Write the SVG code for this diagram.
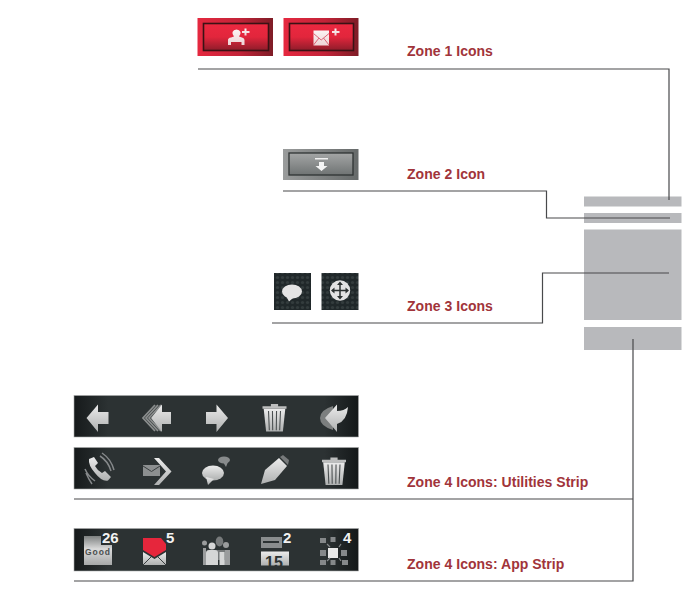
<svg xmlns="http://www.w3.org/2000/svg" width="697" height="597" viewBox="0 0 697 597">
<style>
.lbl{font-family:"Liberation Sans",Arial,sans-serif;font-size:14px;font-weight:bold;fill:#a1343a;letter-spacing:.03px}
.con{fill:none;stroke:#48494b;stroke-width:1.2}
.zone{fill:#b8b9bc}
.inner{stroke:#3a1214;stroke-width:1.6;fill:url(#redIn)}
.ic{fill:url(#ico)}
.icw{fill:url(#whitePink)}
.num{font-family:"Liberation Sans",Arial,sans-serif;font-weight:bold;font-size:15px;fill:#f2f2f2}
.strip{fill:url(#strip);stroke:#a8aaaa;stroke-width:.6}
.bk{fill:#85888a}
</style>
<defs>
<linearGradient id="redOut" x1="0" x2="1" y1="0" y2="0"><stop offset="0" stop-color="#e5283f"/><stop offset=".55" stop-color="#c32338"/><stop offset="1" stop-color="#7e1c26"/></linearGradient>
<linearGradient id="redIn" x1="0" x2="0" y1="0" y2="1"><stop offset="0" stop-color="#ec2840"/><stop offset=".5" stop-color="#e2263c"/><stop offset="1" stop-color="#8e1c2a"/></linearGradient>
<linearGradient id="whitePink" x1="0" x2="0" y1="0" y2="1"><stop offset="0" stop-color="#fbf3f3"/><stop offset="1" stop-color="#eed4d6"/></linearGradient>
<linearGradient id="grayOut" x1="0" x2="1" y1="0" y2="0"><stop offset="0" stop-color="#9a9c9c"/><stop offset="1" stop-color="#666a6a"/></linearGradient>
<linearGradient id="grayIn" x1="0" x2="0" y1="0" y2="1"><stop offset="0" stop-color="#a4a6a6"/><stop offset="1" stop-color="#6f7373"/></linearGradient>
<linearGradient id="strip" x1="0" x2="1" y1="0" y2="0"><stop offset="0" stop-color="#161a1b"/><stop offset=".12" stop-color="#2c3233"/><stop offset=".88" stop-color="#2c3233"/><stop offset="1" stop-color="#141819"/></linearGradient>
<linearGradient id="ico" x1="0" x2="0" y1="0" y2="1"><stop offset="0" stop-color="#ececec"/><stop offset="1" stop-color="#aeb0b0"/></linearGradient>
<linearGradient id="goodG" x1="0" x2="0" y1="0" y2="1"><stop offset="0" stop-color="#7e8181"/><stop offset=".45" stop-color="#dadada"/><stop offset="1" stop-color="#a6a8a8"/></linearGradient>
<pattern id="dots" width="5" height="5" patternUnits="userSpaceOnUse"><rect width="5" height="5" fill="#20282a"/><circle cx="2.500" cy="2.500" r="1.600" fill="#333c3d"/></pattern>
<g id="trash"><path class="ic" d="M-9-9H9L7 10H-7Z"/><path d="M-10-11H10V-9H-10ZM-3-13H3V-11H-3Z" fill="#bdbebe"/><path d="M-5-7-4.300 9M-1.700-7-1.500 9M1.700-7 1.500 9M5-7 4.300 9" stroke="#4a4f50" stroke-width=".9"/></g>
</defs>

<g id="zone-blocks">
<rect class="zone" x="584" y="196.500" width="97.500" height="10"/>
<rect class="zone" x="584" y="213" width="97.500" height="10"/>
<rect class="zone" x="584" y="229.500" width="97.500" height="90.500"/>
<rect class="zone" x="584" y="327" width="97.500" height="23"/>
</g>

<g id="connectors">
<path class="con" d="M198 69H669V200"/>
<path class="con" d="M283 191H546.500V218H670"/>
<path class="con" d="M272 323H542.500V273H669"/>
<path class="con" d="M74 499H633"/>
<path class="con" d="M74 581H633V339"/>
</g>

<g id="zone1-add-contact">
<rect x="197.500" y="18" width="75.500" height="38" fill="url(#redOut)"/>
<rect class="inner" x="203.500" y="23.500" width="65" height="27"/>
<path class="icw" d="M228 45V40Q228 38 231 37.500L234 36.500Q232 34.500 232.500 32Q233.500 29.500 236.500 29.500Q239.500 29.500 240.500 32Q241 34.500 239 36.500L242 37.500Q244.500 38 244.500 40V45H241.500V42H231V45Z"/>
<path class="icw" d="M242 31H244.500V28.500H246.500V31H249.500V33H246.500V35.500H244.500V33H242Z"/>
</g>
<g id="zone1-add-mail">
<rect x="283.500" y="18" width="75" height="38" fill="url(#redOut)"/>
<rect class="inner" x="289.500" y="23.500" width="64" height="27"/>
<path class="icw" d="M313.500 30.500H329V45.500H313.500Z"/>
<path d="M313.500 33.500 321.200 40 329 33.500M313.500 45 319 38M329 45 323.500 38" fill="none" stroke="#d8566a" stroke-width=".9"/>
<path class="icw" d="M332 31H334.500V28.500H336.500V31H339.500V33H336.500V35.500H334.500V33H332Z"/>
</g>

<g id="zone2-icon">
<rect x="283" y="149" width="75.500" height="31" fill="url(#grayOut)"/>
<rect x="289" y="153" width="64" height="22" fill="url(#grayIn)" stroke="#2f3333" stroke-width="1.300"/>
<rect x="315" y="158" width="13" height="1.500" fill="#f0f0f0"/>
<path d="M319 162H324V166H327.500L321.500 171 315.500 166H319Z" fill="#f4f4f4"/>
</g>

<g id="zone3-bubble">
<rect x="274" y="273" width="37" height="37" fill="url(#dots)"/>
<ellipse cx="292" cy="291.500" rx="10" ry="7" fill="#e4e4e4"/>
<path d="M286 296 289 301.500 293 298Z" fill="#e4e4e4"/>
</g>
<g id="zone3-move">
<rect x="321.500" y="273" width="37" height="37" fill="url(#dots)"/>
<circle cx="340" cy="290.500" r="10.200" fill="#e2e2e2"/>
<path d="M340 283V298M332.500 290.500H347.500" stroke="#2b3030" stroke-width="1.500"/>
<path d="M340 281.500 343 285H337ZM340 299.500 343 296H337ZM331 290.500 334.500 287.500V293.500ZM349 290.500 345.500 287.500V293.500Z" fill="#2b3030"/>
</g>

<g id="strip-utilities-1">
<rect class="strip" x="74" y="395.500" width="284.500" height="41.500"/>
<path class="ic" d="M86.500 418 98 404.500V412H108.500V424H98V432Z"/>
<path d="M155 405 143 418 155 431M158 405 146 418 158 431M161 405 149 418 161 431" fill="none" stroke="#8b8e8e" stroke-width="1.800"/>
<path class="ic" d="M151 418 162 404.500V412H171V424H162V432Z"/>
<path class="ic" d="M228 418 216.500 404.500V412H206V424H216.500V432Z"/>
<use href="#trash" transform="translate(274.500 419.500) scale(1.200)"/>
<path d="M333 406Q320 410 320 418Q320 426 333 430Z" fill="#7c7f7f"/>
<path class="ic" d="M325 418 337 404.500V411Q344 411 348 407Q347 421 337 424V432Z"/>
</g>

<g id="strip-utilities-2">
<rect class="strip" x="74" y="447.500" width="284.500" height="41.500"/>
<path class="ic" d="M89 459 94 457 98 463 95 466Q97 470 102 473L105 471 111 477 108 480.500Q102 482 95 473Q88 465 89 459Z"/>
<path d="M100 456Q108 461 111 471M102 453Q111 459 114 470M85 469Q88 476 95 481M86 473Q88 478 92 484" fill="none" stroke="#85888a" stroke-width="1.500"/>
<rect x="143" y="465" width="17" height="11" fill="#8c8f90"/>
<path d="M143 466 151.500 471.500 160 466" fill="none" stroke="#3a3f40"/>
<path class="ic" d="M154 458H159L171.500 471.500 159 485H154L166 471.500Z"/>
<ellipse cx="213" cy="473" rx="11" ry="7.500" class="ic"/>
<path class="ic" d="M206 477 208 485 214 479Z"/>
<ellipse cx="224" cy="460" rx="6" ry="3.500" fill="#888b8c"/>
<path d="M223 462 226 467 228 462Z" fill="#888b8c"/>
<path class="ic" d="M261 484 265 470 279 458 287 466 275 480Z"/>
<path d="M280 457 283 455 289 460 288 465Z" fill="#777a7b"/>
<use href="#trash" transform="translate(334 473) scale(1.200)"/>
</g>

<g id="strip-apps">
<rect class="strip" x="74" y="528.500" width="284.500" height="42.500"/>
<path d="M84 536H101V545H112V565H84Z" fill="url(#goodG)"/>
<text x="85" y="555" font-family="Liberation Sans,sans-serif" font-size="8.500" font-weight="bold" fill="#4a4e4e" textLength="25">Good</text>
<text class="num" x="102" y="543">26</text>
<path d="M143 538H161L166 544V550L154.500 557 143 550Z" fill="#e6263c"/>
<path class="ic" d="M143 552 154.500 559 166 552V565H143Z"/>
<path d="M143 565 151 557M166 565 158 557" stroke="#3a3f40" fill="none"/>
<text class="num" x="166" y="543">5</text>
<path d="M203 565V548H206V565Z" fill="#9a9c9d"/>
<circle cx="204.500" cy="543" r="2.500" fill="#9a9c9d"/>
<path d="M222 565V550H230V565Z" fill="#9a9c9d"/>
<circle cx="226" cy="545" r="3" fill="#9a9c9d"/>
<ellipse cx="219.500" cy="541.500" rx="3.800" ry="5" fill="#777a7b"/>
<path d="M214 550H225V560H214Z" fill="#777a7b"/>
<path d="M206 565V553Q206 550 209 550H215Q218 550 218 553V565Z" fill="#d5d6d6"/>
<circle cx="212" cy="546" r="3.500" fill="#d5d6d6"/>
<path d="M219.500 565V552H224.500V565Z" fill="#d5d6d6"/>
<rect x="261" y="537" width="21" height="11" fill="#8a8d8e"/>
<rect x="263" y="541" width="16" height="2" fill="#2c3233"/>
<rect class="ic" x="261" y="551.500" width="28" height="14"/>
<text x="265" y="568" font-family="Liberation Sans,sans-serif" font-size="16" font-weight="bold" fill="#2c3233">15</text>
<text class="num" x="283" y="543">2</text>
<rect x="328" y="548" width="10" height="10" fill="#e8e8e8"/>
<path class="bk" d="M320 538h6v5h-6zM330.500 537h5v5h-5zM320 550h6v6h-6zM341 550h6v6h-6zM320 560h6v5h-6zM330.500 560h5v5h-5zM342 560h6v5h-6z"/>
<path d="M327 544 330 547M327 561 330 558M341 561 339 558M341 544 339 547" stroke="#85888a" stroke-width="1.200"/>
<text class="num" x="343" y="543">4</text>
</g>

<g id="labels">
<text class="lbl" x="407" y="56">Zone 1 Icons</text>
<text class="lbl" x="407" y="179">Zone 2 Icon</text>
<text class="lbl" x="407" y="311">Zone 3 Icons</text>
<text class="lbl" x="407" y="487">Zone 4 Icons: Utilities Strip</text>
<text class="lbl" x="407" y="569">Zone 4 Icons: App Strip</text>
</g>
</svg>
